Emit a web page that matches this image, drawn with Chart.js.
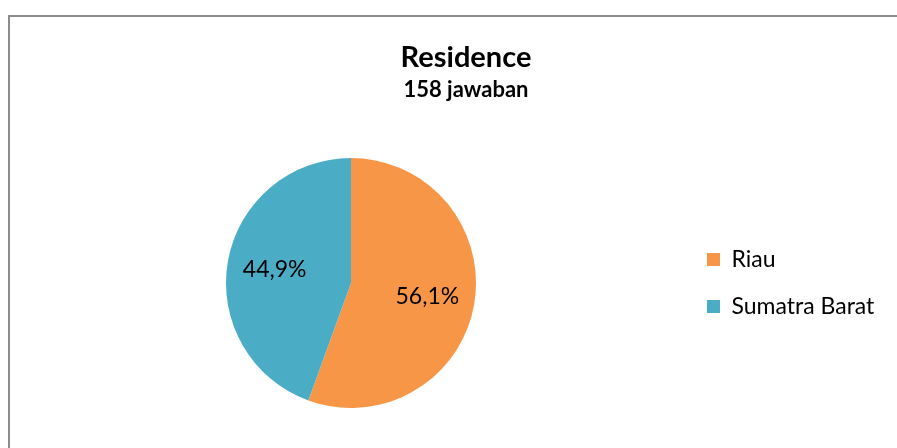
<!DOCTYPE html>
<html>
<head>
<meta charset="utf-8">
<title>Residence</title>
<script src="https://cdn.jsdelivr.net/npm/chart.js@4/dist/chart.umd.min.js"></script>
<style>
  html, body { margin: 0; padding: 0; background: #fff; overflow: hidden; }
  body { width: 897px; height: 448px; position: relative; }
  .frame {
    position: absolute; left: 8px; top: 15px; width: 1000px; height: 500px;
    border-left: 2px solid #8c8c8c; border-top: 2px solid #8c8c8c;
  }
  .wrap { position: absolute; left: 0; top: 0; width: 930px; height: 448px; }
</style>
</head>
<body>
<div class="frame"></div>
<div class="wrap"><canvas id="myChart" width="930" height="448"></canvas></div>
<script>
const titleText = 'Residence';
const subtitleText = '158 jawaban';
const categories = ['Riau', 'Sumatra Barat'];
const percents = [56.1, 44.9];
const colors = ['#F79646', '#4BACC6'];

const FONT = 'Lato, "Open Sans", sans-serif';
const LEGEND_PAD = 24;
const LEGEND_W = 230;

// legend keeps a fixed width so the pie and titles sit where they should
const legendWidth = {
  id: 'legendWidth',
  beforeInit(chart) {
    const fit = chart.legend.fit;
    chart.legend.fit = function () {
      fit.call(this);
      this.width = LEGEND_W;
    };
  }
};

// percentage text inside each slice
const sliceLabels = {
  id: 'sliceLabels',
  afterDatasetsDraw(chart) {
    const ctx = chart.ctx;
    const meta = chart.getDatasetMeta(0);
    ctx.save();
    ctx.font = '23px ' + FONT;
    ctx.fillStyle = '#000';
    ctx.textAlign = 'center';
    ctx.textBaseline = 'middle';
    meta.data.forEach((arc, i) => {
      const p = arc.getProps(['x', 'y', 'startAngle', 'endAngle', 'outerRadius'], true);
      const a = (p.startAngle + p.endAngle) / 2;
      const r = p.outerRadius * 0.62;
      const txt = percents[i].toFixed(1).replace('.', ',') + '%';
      ctx.fillText(txt, p.x + Math.cos(a) * r, p.y + Math.sin(a) * r);
    });
    ctx.restore();
  }
};

const ctx = document.getElementById('myChart').getContext('2d');
const myChart = new Chart(ctx, {
  type: 'pie',
  data: {
    labels: categories,
    datasets: [{
      data: percents,
      backgroundColor: colors,
      borderWidth: 0,
      radius: 125
    }]
  },
  options: {
    responsive: false,
    animation: false,
    layout: {
      padding: { left: 19, right: 17, top: 0, bottom: 40 }
    },
    plugins: {
      title: {
        display: true,
        text: titleText,
        color: '#000',
        font: { family: FONT, size: 29, weight: 'bold', lineHeight: 1.2 },
        padding: { top: 40, bottom: 0 }
      },
      subtitle: {
        display: true,
        text: subtitleText,
        color: '#000',
        font: { family: FONT, size: 22, weight: 'bold', lineHeight: 1.2 },
        padding: { top: 1.7, bottom: 55.1 }
      },
      legend: {
        position: 'right',
        fullSize: false,
        labels: {
          color: '#000',
          boxWidth: 13,
          boxHeight: 13,
          padding: LEGEND_PAD,
          font: { family: FONT, size: 23 }
        }
      },
      tooltip: { enabled: false }
    }
  },
  plugins: [legendWidth, sliceLabels]
});
</script>
</body>
</html>
